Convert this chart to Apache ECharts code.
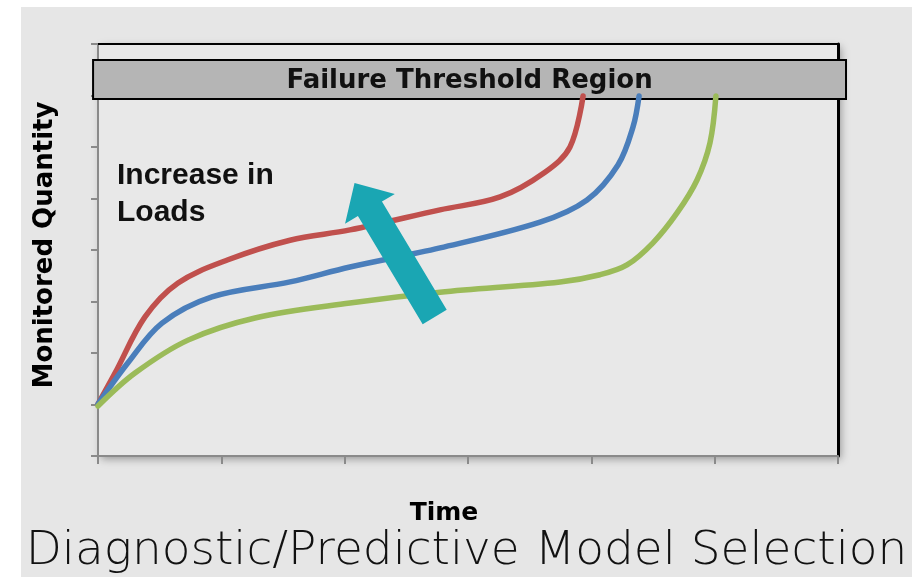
<!DOCTYPE html>
<html>
<head>
<meta charset="utf-8">
<script src="https://cdn.jsdelivr.net/npm/echarts@6/dist/echarts.min.js"></script>
<style>
html,body{margin:0;padding:0;background:#fff;width:912px;height:577px;overflow:hidden;}
#chart{position:absolute;left:21px;top:7px;width:891px;height:570px;}
</style>
</head>
<body>
<div id="chart"></div>
<script>
// Data (x = time units, y = monitored quantity units)
const redPoints = [[0,1.01],[0.138,1.61],[0.381,2.70],[0.649,3.36],[1.054,3.81],[1.557,4.19],[2.043,4.39],[2.773,4.78],[3.26,5.03],[3.624,5.51],[3.827,6.0],[3.933,6.99]];
const bluePoints = [[0,1.01],[0.243,1.81],[0.519,2.58],[0.924,3.09],[1.557,3.38],[2.043,3.67],[2.773,4.04],[3.584,4.54],[3.965,4.97],[4.216,5.65],[4.338,6.39],[4.387,6.99]];
const greenPoints = [[0,0.97],[0.30,1.61],[0.730,2.25],[1.273,2.68],[2.043,2.97],[2.773,3.18],[3.746,3.38],[4.07,3.52],[4.289,3.71],[4.50,4.14],[4.695,4.72],[4.857,5.36],[4.962,6.08],[5.01,6.99]];
// Failure threshold band: [xStart, xEnd, yLow, yHigh]
const thresholdBand = [[-0.04, 6.065, 6.93, 7.69]];
const thresholdLabel = 'Failure Threshold Region';
// Arrow: [tailX, tailY, tipX, tipY]
const loadArrow = [[2.73, 2.70, 2.08, 5.30]];
const arrowLabel = 'Increase in\nLoads';
const xTicks = [0,1,2,3,4,5,6];
const yTicks = [0,1,2,3,4,5,6,7,8];

const chart = echarts.init(document.getElementById('chart'), null, {renderer:'canvas'});
const boldFont = 'DejaVu Sans';
const option = {
  backgroundColor: '#e6e6e6',
  animation: false,
  title: {
    text: 'Diagnostic/Predictive Model Selection',
    left: 'center',
    top: 521,
    padding: 0,
    textStyle: {fontFamily: 'DejaVu Sans', fontWeight: 200, fontSize: 47, color: '#111'}
  },
  grid: {
    left: 77, right: 74, top: 37, bottom: 121,
    show: true, backgroundColor: '#e8e8e8', borderWidth: 0,
    shadowColor: 'rgba(0,0,0,0.35)', shadowBlur: 8, shadowOffsetX: 3, shadowOffsetY: 3
  },
  xAxis: [{
    type: 'value', min: xTicks[0], max: xTicks[xTicks.length-1], interval: 1,
    name: 'Time', nameLocation: 'middle', nameGap: 45,
    nameTextStyle: {fontFamily: boldFont, fontWeight: 'bold', fontSize: 25, color: '#000', padding: [0, 48, 0, 0]},
    axisLine: {show: true, onZero: false, lineStyle: {color: '#8a8a8a', width: 2}},
    axisTick: {show: true, length: 8, lineStyle: {color: '#8a8a8a', width: 2}},
    axisLabel: {show: false}, splitLine: {show: false}
  },{
    type: 'value', position: 'top', min: 0, max: 6,
    axisLine: {show: true, onZero: false, lineStyle: {color: '#000', width: 2}},
    axisTick: {show: false}, axisLabel: {show: false}, splitLine: {show: false}
  }],
  yAxis: [{
    type: 'value', min: yTicks[0], max: yTicks[yTicks.length-1], interval: 1,
    name: 'Monitored Quantity', nameLocation: 'middle', nameGap: 40,
    nameTextStyle: {fontFamily: boldFont, fontWeight: 'bold', fontSize: 26, color: '#000', padding: [0, 0, 0, 10]},
    axisLine: {show: true, onZero: false, lineStyle: {color: '#8a8a8a', width: 2}},
    axisTick: {show: true, length: 7, lineStyle: {color: '#8a8a8a', width: 2}},
    axisLabel: {show: false}, splitLine: {show: false}
  },{
    type: 'value', position: 'right', min: 0, max: 8,
    axisLine: {show: true, onZero: false, lineStyle: {color: '#000', width: 3}},
    axisTick: {show: false}, axisLabel: {show: false}, splitLine: {show: false}
  }],
  series: [
    {
      type: 'custom', name: 'threshold', clip: false, z: 1,
      data: thresholdBand,
      renderItem: function (params, api) {
        const p1 = api.coord([api.value(0), api.value(3)]);
        const p2 = api.coord([api.value(1), api.value(2)]);
        return {
          type: 'rect',
          shape: {x: p1[0], y: p1[1], width: p2[0]-p1[0], height: p2[1]-p1[1]},
          style: {fill: '#b5b5b5', stroke: '#000', lineWidth: 2},
          textContent: {style: {text: thresholdLabel, fontFamily: boldFont, fontWeight: 'bold', fontSize: 26, fill: '#111'}},
          textConfig: {position: 'inside', offset: [0, 2]}
        };
      }
    },
    {type: 'line', name: 'High load', data: redPoints, smooth: 0.35, showSymbol: false, symbol: 'none', z: 3,
     lineStyle: {color: '#c0504d', width: 5.5, cap: 'round'}},
    {type: 'line', name: 'Medium load', data: bluePoints, smooth: 0.35, showSymbol: false, symbol: 'none', z: 3,
     lineStyle: {color: '#4a7ebb', width: 5.5, cap: 'round'}},
    {type: 'line', name: 'Low load', data: greenPoints, smooth: 0.35, showSymbol: false, symbol: 'none', z: 3,
     lineStyle: {color: '#9bbb59', width: 5.5, cap: 'round'}},
    {
      type: 'custom', name: 'arrow', clip: false, z: 5,
      data: loadArrow,
      renderItem: function (params, api) {
        const t = api.coord([api.value(0), api.value(1)]);
        const h = api.coord([api.value(2), api.value(3)]);
        const dx = h[0]-t[0], dy = h[1]-t[1];
        const L = Math.sqrt(dx*dx+dy*dy);
        const ux = dx/L, uy = dy/L, nx = -uy, ny = ux;
        const sw = 14, hw = 29, hl = 30;
        const bx = h[0]-ux*hl, by = h[1]-uy*hl;
        const pts = [
          [t[0]+nx*sw, t[1]+ny*sw],
          [bx+nx*sw, by+ny*sw],
          [bx+nx*hw, by+ny*hw],
          [h[0], h[1]],
          [bx-nx*hw, by-ny*hw],
          [bx-nx*sw, by-ny*sw],
          [t[0]-nx*sw, t[1]-ny*sw]
        ];
        return {type: 'polygon', shape: {points: pts}, style: {fill: '#1aa6b3'}};
      }
    }
  ],
  graphic: [{
    type: 'text', left: 96, top: 150,
    style: {text: arrowLabel, fontFamily: 'Liberation Sans', fontWeight: 'bold', fontSize: 30, lineHeight: 37, fill: '#111'}
  }]
};
chart.setOption(option);
</script>
</body>
</html>
